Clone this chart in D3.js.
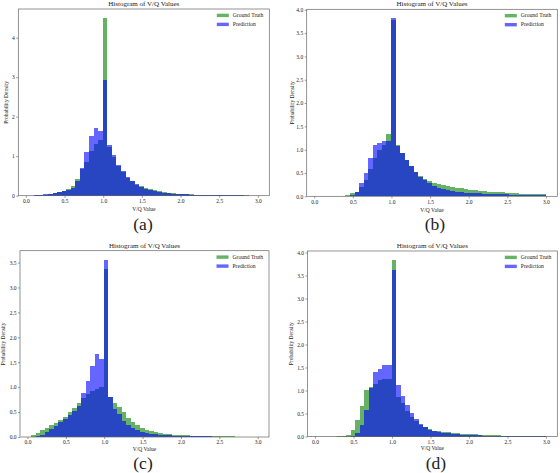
<!DOCTYPE html>
<html lang="en">
<head>
<meta charset="utf-8">
<title>Histogram of V/Q Values</title>
<script src="https://d3js.org/d3.v7.min.js"></script>
<style>
  body { margin: 0; background: #fff; }
  svg text { font-family: "Liberation Serif", "DejaVu Serif", serif; fill: #222; }
</style>
</head>
<body>
<svg id="chart" width="560" height="473"></svg>
<script>
// bins shared by all four histograms
const binStart = 0.05, binEnd = 3.0, binCount = 50;
const xTicks = [0, 0.5, 1, 1.5, 2, 2.5, 3];
const seriesNames = ["Ground Truth", "Prediction"];
const panelLabels = ["(a)", "(b)", "(c)", "(d)"];

// densities per bin
const gtA = [0.002, 0.006, 0.015, 0.03, 0.045, 0.065, 0.09, 0.12, 0.17, 0.24, 0.42, 0.67, 0.86, 1.14, 1.32, 1.42, 4.5, 1.24, 0.98, 0.75, 0.6, 0.46, 0.36, 0.28, 0.24, 0.2, 0.17, 0.14, 0.11, 0.09, 0.075, 0.062, 0.052, 0.044, 0.037, 0.031, 0.026, 0.022, 0.019, 0.016, 0.014, 0.012, 0.011, 0.01, 0.009, 0.008, 0.007, 0.006, 0.005, 0.005];
const predA = [0.003, 0.01, 0.02, 0.035, 0.05, 0.07, 0.09, 0.11, 0.14, 0.2, 0.38, 0.7, 1.1, 1.5, 1.72, 1.64, 2.92, 1.29, 1.02, 0.78, 0.63, 0.47, 0.37, 0.29, 0.23, 0.18, 0.15, 0.12, 0.1, 0.08, 0.065, 0.055, 0.045, 0.038, 0.032, 0.027, 0.023, 0.02, 0.017, 0.015, 0.013, 0.011, 0.01, 0.009, 0.008, 0.007, 0.006, 0.005, 0.005, 0.004];

const gtB = [0, 0, 0, 0, 0.003, 0.01, 0.02, 0.07, 0.1, 0.2, 0.35, 0.58, 0.82, 1.0, 1.1, 1.33, 3.78, 1.1, 0.92, 0.78, 0.64, 0.53, 0.44, 0.37, 0.33, 0.29, 0.26, 0.24, 0.22, 0.2, 0.18, 0.17, 0.155, 0.145, 0.13, 0.12, 0.11, 0.1, 0.095, 0.09, 0.085, 0.08, 0.072, 0.065, 0.06, 0.055, 0.05, 0.047, 0.043, 0.04];
const predB = [0, 0, 0, 0, 0, 0, 0.005, 0.02, 0.1, 0.28, 0.5, 0.83, 1.1, 1.15, 1.19, 1.19, 3.82, 1.08, 0.93, 0.78, 0.64, 0.52, 0.42, 0.34, 0.28, 0.22, 0.18, 0.16, 0.14, 0.12, 0.1, 0.09, 0.08, 0.075, 0.07, 0.065, 0.06, 0.055, 0.05, 0.047, 0.044, 0.04, 0.038, 0.036, 0.034, 0.032, 0.03, 0.029, 0.028, 0.027];

const gtC = [0.04, 0.09, 0.14, 0.19, 0.25, 0.29, 0.35, 0.41, 0.5, 0.58, 0.68, 0.78, 0.86, 0.93, 0.97, 1.0, 3.38, 0.81, 0.68, 0.6, 0.51, 0.39, 0.3, 0.24, 0.19, 0.15, 0.12, 0.1, 0.085, 0.07, 0.06, 0.05, 0.045, 0.04, 0.035, 0.03, 0.027, 0.024, 0.021, 0.019, 0.017, 0.015, 0.013, 0.012, 0.011, 0.01, 0.009, 0.008, 0.007, 0.006];
const predC = [0, 0.02, 0.05, 0.1, 0.16, 0.22, 0.3, 0.36, 0.44, 0.52, 0.62, 0.88, 1.12, 1.43, 1.67, 1.56, 3.56, 0.81, 0.56, 0.46, 0.33, 0.25, 0.19, 0.15, 0.11, 0.08, 0.065, 0.055, 0.045, 0.04, 0.035, 0.03, 0.026, 0.023, 0.02, 0.018, 0.016, 0.014, 0.012, 0.011, 0.01, 0.009, 0.008, 0.007, 0.006, 0.006, 0.005, 0.005, 0.004, 0.004];

const gtD = [0, 0, 0, 0, 0.003, 0.01, 0.03, 0.15, 0.35, 0.66, 1.0, 1.08, 1.15, 1.22, 1.25, 1.24, 3.84, 0.85, 0.72, 0.55, 0.42, 0.33, 0.26, 0.2, 0.16, 0.13, 0.11, 0.1, 0.09, 0.08, 0.07, 0.065, 0.06, 0.05, 0.045, 0.04, 0.035, 0.03, 0.027, 0.024, 0.021, 0.018, 0.015, 0.013, 0.011, 0.01, 0.008, 0.007, 0.006, 0.005];
const predD = [0, 0, 0, 0, 0, 0, 0, 0.002, 0.08, 0.25, 0.58, 1.05, 1.4, 1.47, 1.55, 1.55, 3.62, 1.12, 0.88, 0.68, 0.5, 0.38, 0.28, 0.2, 0.15, 0.12, 0.1, 0.085, 0.07, 0.06, 0.05, 0.04, 0.035, 0.03, 0.026, 0.022, 0.019, 0.016, 0.014, 0.012, 0.01, 0.009, 0.008, 0.007, 0.006, 0.005, 0.004, 0.004, 0.003, 0.003];

const yTicksA = [0, 1, 2, 3, 4];
const yTicksB = [0, 0.5, 1, 1.5, 2, 2.5, 3, 3.5, 4];
const yTicksC = [0, 0.5, 1, 1.5, 2, 2.5, 3, 3.5];
const yTicksD = [0, 0.5, 1, 1.5, 2, 2.5, 3, 3.5, 4];

// where each axes box sits on the page
const boxes = [
  { l: 18.3, r: 269.3, t: 9, b: 195.7, ylx: 8, xlo: 15.5, lx: 143, ly: 229.5 },
  { l: 306.7, r: 557.3, t: 9.3, b: 196.3, ylx: 293.5, xlo: 15.5, lx: 435, ly: 229.5 },
  { l: 20, r: 269, t: 250.7, b: 437, ylx: 5, xlo: 13.5, lx: 143, ly: 468.5 },
  { l: 307.5, r: 557.3, t: 251, b: 436.5, ylx: 292.5, xlo: 13.5, lx: 436, ly: 468.5 }
];

const panels = [
  { gt: gtA, pred: predA, yTicks: yTicksA, fmt: d3.format("d") },
  { gt: gtB, pred: predB, yTicks: yTicksB, fmt: d3.format(".1f") },
  { gt: gtC, pred: predC, yTicks: yTicksC, fmt: d3.format(".1f") },
  { gt: gtD, pred: predD, yTicks: yTicksD, fmt: d3.format(".1f") }
];

const colors = ["green", "blue"];
const svg = d3.select("#chart");
svg.append("rect").attr("width", 560).attr("height", 473).attr("fill", "#fff");

const binWidth = (binEnd - binStart) / binCount;
const edges = d3.range(binCount + 1).map(i => binStart + i * binWidth);
const pad = 0.05 * (binEnd - binStart);

panels.forEach((p, i) => {
  const bx = boxes[i];
  const g = svg.append("g");

  const x = d3.scaleLinear().domain([binStart - pad, binEnd + pad]).range([bx.l, bx.r]);
  const ymax = d3.max(p.gt.concat(p.pred)) * 1.05;
  const y = d3.scaleLinear().domain([0, ymax]).range([bx.b, bx.t]);

  // histogram bars, ground truth first then prediction on top
  [p.gt, p.pred].forEach((vals, s) => {
    g.append("g")
      .attr("opacity", 0.6)
      .selectAll("rect")
      .data(vals)
      .join("rect")
      .attr("shape-rendering", "crispEdges")
      .attr("x", (d, k) => x(edges[k]))
      .attr("width", (d, k) => x(edges[k + 1]) - x(edges[k]))
      .attr("y", d => y(d))
      .attr("height", d => y(0) - y(d))
      .attr("fill", colors[s]);
  });

  // axes
  const xAxis = d3.axisBottom(x).tickValues(xTicks).tickFormat(d3.format(".1f")).tickSize(2).tickPadding(1.5);
  const yAxis = d3.axisLeft(y).tickValues(p.yTicks).tickFormat(p.fmt).tickSize(2).tickPadding(1.5);

  const gx = g.append("g").attr("transform", `translate(0,${bx.b})`).call(xAxis);
  const gy = g.append("g").attr("transform", `translate(${bx.l},0)`).call(yAxis);
  [gx, gy].forEach(a => {
    a.select(".domain").remove();
    a.selectAll("line").attr("stroke", "#555").attr("stroke-width", 0.6);
    a.selectAll("text").attr("font-size", 5.5).attr("fill", "#333")
      .style("font-family", '"Liberation Serif", serif');
  });

  g.append("rect")
    .attr("x", bx.l).attr("y", bx.t)
    .attr("width", bx.r - bx.l).attr("height", bx.b - bx.t)
    .attr("fill", "none").attr("stroke", "#666").attr("stroke-width", 0.7);

  // title and axis labels
  g.append("text")
    .attr("x", (bx.l + bx.r) / 2).attr("y", bx.t - 3)
    .attr("text-anchor", "middle").attr("font-size", 7)
    .text("Histogram of V/Q Values");

  g.append("text")
    .attr("x", (bx.l + bx.r) / 2).attr("y", bx.b + bx.xlo)
    .attr("text-anchor", "middle").attr("font-size", 5.5).attr("fill", "#333")
    .text("V/Q Value");

  g.append("text")
    .attr("transform", `translate(${bx.ylx},${(bx.t + bx.b) / 2}) rotate(-90)`)
    .attr("text-anchor", "middle").attr("font-size", 5.5).attr("fill", "#333")
    .text("Probability Density");

  // legend
  seriesNames.forEach((name, s) => {
    const ly = bx.t + 4.7 + s * 9;
    g.append("rect")
      .attr("x", bx.r - 52.5).attr("y", ly)
      .attr("width", 12).attr("height", 3.4)
      .attr("fill", colors[s]).attr("opacity", 0.6);
    g.append("text")
      .attr("x", bx.r - 36.5).attr("y", ly + 3.3)
      .attr("font-size", 5.6).attr("fill", "#333")
      .text(name);
  });

  // sub-figure label
  g.append("text")
    .attr("x", bx.lx).attr("y", bx.ly)
    .attr("text-anchor", "middle").attr("font-size", 17.5).attr("fill", "#111")
    .text(panelLabels[i]);
});
</script>
</body>
</html>
